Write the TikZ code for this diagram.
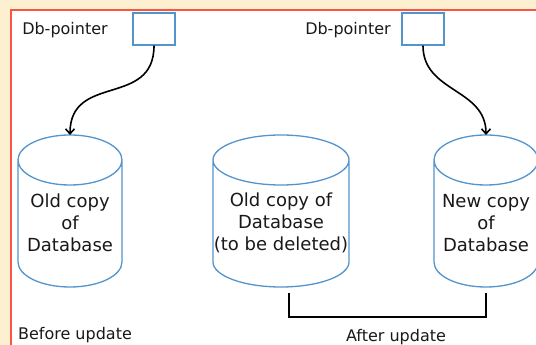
\documentclass[tikz,border=0pt]{standalone}
\usepackage{fontspec}
\setmainfont{DejaVu Sans}
\usetikzlibrary{arrows.meta}
\definecolor{dbblue}{RGB}{84,148,204}
\definecolor{framered}{RGB}{250,85,65}
\definecolor{pagebeige}{RGB}{252,240,208}
\definecolor{inkgray}{RGB}{25,25,25}
% outline of a database drum around the empty node #1, x radius #2
\newcommand{\dbdrum}[2]{%
  \draw[drum] ([yshift=-25pt]#1.north west) -- ([yshift=25pt]#1.south west)
    arc[start angle=180,end angle=360,x radius=#2,y radius=25pt]
    -- ([yshift=-25pt]#1.north east)
    arc[start angle=0,end angle=360,x radius=#2,y radius=25pt];}
\begin{document}
\begin{tikzpicture}[x=1pt,y=1pt,%
% common options for the drums:
drumframe/.style = {inner sep=0, outer sep=0, minimum height=152pt},
drum/.style = {draw=dbblue, line width=1.3pt},
dbtext/.style = {align=center, text=inkgray, inner sep=0,
            font=\fontsize{18}{22}\selectfont},
% common options for pointers and labels:
ptrbox/.style = {draw=dbblue, line width=1.3pt, fill=white,
            minimum width=42pt, minimum height=32pt, inner sep=0},
lbl/.style = {text=inkgray, inner sep=0, font=\fontsize{16}{19}\selectfont},
ptrarrow/.style = {line width=1.6pt, -{Straight Barb[length=5pt,width=9pt]}},
brk/.style = {line width=1.7pt}]
\path[use as bounding box] (0,0) rectangle (536,345);
\clip (0,0) rectangle (536,345);
\fill[pagebeige] (0,0) rectangle (536,345);
\filldraw[fill=white,draw=framered,line width=2.4pt] (11,335) rectangle (548,-8);
\node[ptrbox] (ptrA) at (154,316) {};
\node[ptrbox] (ptrB) at (423,316) {};
\node[lbl] (ptrAlbl) at (65,315) {Db-pointer};
\node[lbl] (ptrBlbl) at (348,315) {Db-pointer};
\node[drumframe, minimum width=104pt] (oldA) at (70,134) {};
\node[drumframe, minimum width=136pt] (oldB) at (281,134) {};
\node[drumframe, minimum width=104pt] (newB) at (486,134) {};
\dbdrum{oldA}{52pt}
\dbdrum{oldB}{68pt}
\dbdrum{newB}{52pt}
\node[dbtext] (oldAtxt) at ([yshift=-12pt]oldA.center) {Old copy\\of\\Database};
\node[dbtext] (oldBtxt) at ([yshift=-12pt]oldB.center) {Old copy of\\Database\\(to be deleted)};
\node[dbtext] (newBtxt) at ([yshift=-12pt]newB.center) {New copy\\of\\Database};
\draw[ptrarrow] (ptrA.south) to[out=-90,in=90,looseness=1.3] (oldA.north);
\draw[ptrarrow] (ptrB.south) to[out=-90,in=90,looseness=1.1] (newB.north);
\draw[brk] ([xshift=8pt,yshift=-6pt]oldB.south) -- ++(0,-24) -| ([yshift=-6pt]newB.south);
\node[lbl] (before) at (75,10) {Before update};
\node[lbl] (after) at (396,8) {After update};
\end{tikzpicture}
\end{document}
